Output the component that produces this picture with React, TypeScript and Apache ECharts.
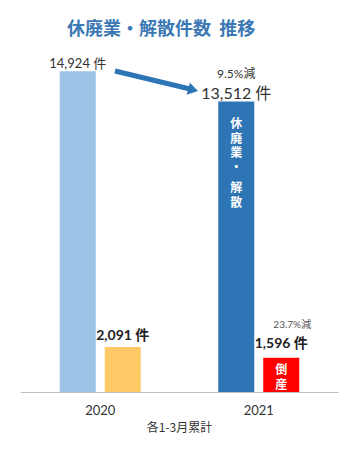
import React, { useEffect, useRef } from "react";
import * as echarts from "echarts";

const categories = ["2020", "2021"];
const closureValues = [14924, 13512];
const bankruptcyValues = [2091, 1596];
const closureLabels = ["14,924 件", "13,512 件"];
const bankruptcyLabels = ["2,091 件", "1,596 件"];
const closureChange = "9.5%減";
const bankruptcyChange = "23.7%減";
const titleText = "休廃業・解散件数  推移";
const axisName = "各1-3月累計";

const FONT = "Lato, 'Noto Sans CJK JP', sans-serif";
const CJK = "'Noto Sans CJK JP', sans-serif";

export default function App() {
  const ref = useRef<HTMLDivElement>(null);
  useEffect(() => {
    if (!ref.current) return;
    const chart = echarts.init(ref.current, undefined, { renderer: "svg" });
    const option: any = {
      animation: false,
      textStyle: { fontFamily: FONT },
      title: {
        text: titleText,
        left: 67,
        top: 18,
        padding: 0,
        textStyle: { fontFamily: CJK, fontSize: 18, fontWeight: "bold", color: "#3b78b4" },
      },
      grid: { left: 21, right: 13, top: 48, bottom: 58 },
      xAxis: {
        type: "category",
        data: categories,
        axisLine: { lineStyle: { color: "#bfbfbf", width: 1 } },
        axisTick: { show: false },
        axisLabel: { color: "#333", fontSize: 13, margin: 11, fontFamily: FONT },
        name: axisName,
        nameLocation: "middle",
        nameGap: 26,
        nameTextStyle: { color: "#333", fontSize: 12, fontFamily: CJK },
      },
      yAxis: { type: "value", min: 0, max: 16000, show: false, splitLine: { show: false } },
      series: [
        {
          type: "bar",
          barWidth: 36,
          barGap: "25%",
          data: [
            {
              value: closureValues[0],
              itemStyle: { color: "#9dc3e6" },
              label: {
                show: true,
                position: "top",
                distance: 2,
                formatter: closureLabels[0],
                color: "#333",
                fontSize: 13,
                fontFamily: FONT,
              },
            },
            {
              value: closureValues[1],
              itemStyle: { color: "#2e75b6" },
              label: {
                show: true,
                position: ["50%", -37],
                align: "center",
                verticalAlign: "top",
                formatter: [
                  `{pct|${closureChange}}`,
                  `{num|${closureLabels[1]}}`,
                  `{sp| }`,
                  `{in|休}`,
                  `{in|廃}`,
                  `{in|業}`,
                  `{in|・}`,
                  `{sp2| }`,
                  `{in|解}`,
                  `{in|散}`,
                ].join("\n"),
                rich: {
                  pct: { fontSize: 12, lineHeight: 18, color: "#333", fontFamily: FONT },
                  num: { fontSize: 16, lineHeight: 20, color: "#333", fontFamily: FONT },
                  sp: { fontSize: 4, lineHeight: 13 },
                  sp2: { fontSize: 4, lineHeight: 6 },
                  in: { fontSize: 12, lineHeight: 14.5, color: "#fff", fontWeight: "bold", fontFamily: CJK },
                },
              },
            },
          ],
        },
        {
          type: "bar",
          barWidth: 36,
          barGap: "25%",
          data: [
            {
              value: bankruptcyValues[0],
              itemStyle: { color: "#ffc966" },
              label: {
                show: true,
                position: "top",
                distance: 6,
                formatter: bankruptcyLabels[0],
                color: "#222",
                fontSize: 14,
                fontWeight: "bold",
                fontFamily: FONT,
              },
            },
            {
              value: bankruptcyValues[1],
              itemStyle: { color: "#ff0000" },
              label: {
                show: true,
                position: ["50%", -42],
                align: "center",
                verticalAlign: "top",
                formatter: [
                  `{pct|${bankruptcyChange}}`,
                  `{num|${bankruptcyLabels[1]}}`,
                  `{sp| }`,
                  `{in|倒}`,
                  `{in|産}`,
                ].join("\n"),
                rich: {
                  pct: { fontSize: 10, lineHeight: 16, color: "#555", fontFamily: FONT, padding: [0, 0, 0, 22] },
                  num: { fontSize: 14, lineHeight: 22, color: "#222", fontWeight: "bold", fontFamily: FONT },
                  sp: { fontSize: 4, lineHeight: 8 },
                  in: { fontSize: 12, lineHeight: 14.5, color: "#fff", fontWeight: "bold", fontFamily: CJK },
                },
              },
            },
          ],
        },
      ],
      graphic: [
        {
          type: "line",
          shape: { x1: 115, y1: 71, x2: 189, y2: 88.7 },
          style: { stroke: "#2e75b6", lineWidth: 5 },
        },
        {
          type: "polygon",
          shape: { points: [[198, 91], [186.6, 94.8], [189.9, 82.7]] },
          style: { fill: "#2e75b6" },
        },
      ],
    };
    chart.setOption(option);
    return () => chart.dispose();
  }, []);
  return <div ref={ref} style={{ width: 351, height: 450, margin: -8 }} />;
}
